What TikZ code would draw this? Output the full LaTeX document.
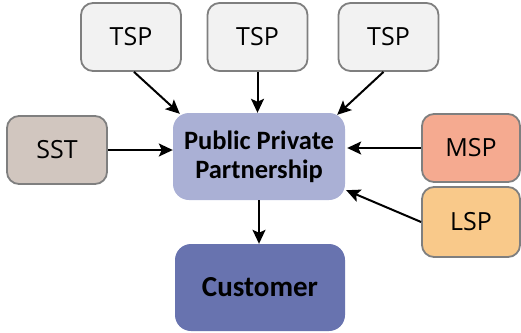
\documentclass[tikz,border=0pt]{standalone}
\usepackage{fontspec}
\setmainfont{Carlito}
\newfontfamily\boxfont{Open Sans}
\usetikzlibrary{arrows.meta}
\definecolor{bordergray}{HTML}{7F7F7F}
\definecolor{tspfill}{HTML}{F2F2F2}
\definecolor{sstfill}{HTML}{D1C6BF}
\definecolor{mspfill}{HTML}{F5AA90}
\definecolor{lspfill}{HTML}{F9C98A}
\definecolor{pppfill}{HTML}{AAB0D5}
\definecolor{custfill}{HTML}{6873AF}
\tikzset{
  box/.style={draw=bordergray, line width=1.8pt, rounded corners=12pt, minimum width=100pt, minimum height=68pt, inner sep=0pt, font=\boxfont\fontsize{25}{28}\selectfont},
  bigbox/.style={rounded corners=16pt, inner sep=0pt, align=center, font=\bfseries\fontsize{26.5}{29}\selectfont},
  arr/.style={line width=2pt, -{Stealth[length=14pt,width=13pt,inset=3pt]}}
}
\begin{document}
\begin{tikzpicture}[x=1pt,y=-1pt]
\useasboundingbox (0,0) rectangle (521,332);
\node[box, fill=tspfill] (tsp1) at (131,37) {TSP};
\node[box, fill=tspfill] (tsp2) at (257.5,37) {TSP};
\node[box, fill=tspfill] (tsp3) at (388.5,37) {TSP};
\node[box, fill=sstfill] (sst) at (57,150) {SST};
\node[box, fill=mspfill, minimum width=98pt] (msp) at (471,148) {MSP};
\node[box, fill=lspfill, minimum width=98pt, minimum height=70pt] (lsp) at (471,222) {LSP};
\node[bigbox, fill=pppfill, minimum width=172pt, minimum height=87pt] (ppp) at (259,156.5) {Public Private\\Partnership};
\node[bigbox, fill=custfill, minimum width=170pt, minimum height=87pt, font=\bfseries\fontsize{29}{33}\selectfont] (cust) at (260,287.5) {Customer};
\draw[arr] ([xshift=3pt]tsp1.south) -- ([xshift=7pt,yshift=-1pt]ppp.north west);
\draw[arr] (tsp2.south) -- (tsp2.south |- ppp.north);
\draw[arr] ([xshift=-5pt]tsp3.south) -- ([xshift=-8pt,yshift=-2pt]ppp.north east);
\draw[arr] (sst.east) -- (sst.east -| ppp.west);
\draw[arr] (msp.west) -- ([xshift=2pt]msp.west -| ppp.east);
\draw[arr] (lsp.west) -- ([xshift=1pt,yshift=10pt]ppp.south east);
\draw[arr] (ppp.south) -- (ppp.south |- cust.north);
\end{tikzpicture}
\end{document}
